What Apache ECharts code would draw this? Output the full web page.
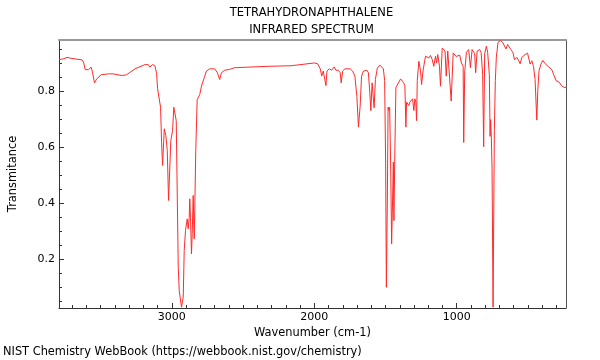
<!DOCTYPE html>
<html>
<head>
<meta charset="utf-8">
<script src="https://cdn.jsdelivr.net/npm/echarts@6/dist/echarts.min.js"></script>
<style>
html,body{margin:0;padding:0;background:#fff;}
#chart{width:600px;height:360px;}
</style>
</head>
<body>
<div id="chart"></div>
<script>
// Wavenumber (cm-1) and transmittance
var wavenumber = [
  3792,3757,3736,3701,3631,3620,3608,3585,3566,3557,
  3543,3527,3496,3445,3410,3352,3317,3259,3189,3165,
  3154,3137,3119,3107,3100,3088,3079,3072,3065,3053,
  3042,3032,3023,3007,2995,2986,2979,2969,2955,2948,
  2932,2920,2913,2904,2892,2885,2878,2874,2869,2862,
  2857,2850,2843,2839,2832,2822,2804,2792,2769,2757,
  2734,2699,2680,2664,2652,2629,2594,2559,2466,2326,
  2163,2000,1976,1958,1948,1937,1925,1918,1911,1895,
  1878,1860,1848,1832,1818,1811,1801,1785,1748,1731,
  1715,1701,1690,1678,1668,1655,1631,1620,1610,1603,
  1594,1590,1580,1571,1557,1538,1515,1506,1499,1494,
  1487,1482,1476,1471,1464,1457,1450,1445,1441,1434,
  1427,1413,1394,1375,1364,1357,1352,1343,1336,1329,
  1319,1310,1301,1294,1287,1282,1277,1266,1254,1247,
  1235,1219,1196,1184,1172,1161,1149,1142,1133,1121,
  1114,1102,1091,1082,1074,1063,1051,1039,1025,1014,
  1004,993,979,967,955,951,944,932,916,904,
  892,881,874,867,857,839,829,818,811,804,
  792,783,771,766,762,757,752,745,736,729,
  722,710,694,678,671,654,643,629,620,606,
  594,578,566,555,543,520,503,494,485,473,
  461,450,438,431,422,408,396,380,357,333,
  303,280,263,247,233
];
var transmittance = [
  0.914,0.917,0.922,0.918,0.913,0.905,0.878,0.878,0.887,0.869,
  0.831,0.845,0.860,0.863,0.863,0.857,0.860,0.881,0.896,0.896,
  0.887,0.896,0.893,0.865,0.810,0.806,0.744,0.619,0.536,0.667,
  0.643,0.589,0.411,0.625,0.660,0.744,0.746,0.696,0.173,0.089,
  0.030,0.065,0.232,0.304,0.345,0.310,0.351,0.417,0.350,0.220,
  0.290,0.429,0.274,0.375,0.589,0.771,0.789,0.819,0.855,0.873,
  0.881,0.881,0.867,0.843,0.867,0.876,0.879,0.885,0.887,0.890,
  0.892,0.902,0.899,0.881,0.855,0.873,0.867,0.821,0.873,0.881,
  0.876,0.888,0.876,0.876,0.867,0.831,0.873,0.881,0.881,0.873,
  0.855,0.783,0.673,0.748,0.855,0.873,0.876,0.867,0.795,0.732,
  0.831,0.835,0.742,0.843,0.885,0.894,0.881,0.839,0.542,0.101,
  0.423,0.744,0.732,0.744,0.542,0.256,0.423,0.548,0.339,0.601,
  0.815,0.827,0.845,0.833,0.821,0.673,0.762,0.765,0.750,0.762,
  0.756,0.774,0.732,0.774,0.762,0.696,0.839,0.908,0.875,0.825,
  0.880,0.926,0.920,0.929,0.914,0.890,0.926,0.902,0.932,0.890,
  0.819,0.955,0.958,0.945,0.855,0.945,0.950,0.766,0.938,0.935,
  0.925,0.932,0.930,0.902,0.890,0.618,0.870,0.940,0.950,0.885,
  0.950,0.950,0.935,0.867,0.944,0.950,0.940,0.861,0.603,0.935,
  0.962,0.940,0.860,0.640,0.700,0.635,0.520,0.030,0.660,0.839,
  0.923,0.976,0.982,0.976,0.980,0.952,0.968,0.970,0.950,0.940,
  0.913,0.922,0.912,0.899,0.922,0.932,0.937,0.932,0.898,0.910,
  0.890,0.843,0.698,0.804,0.875,0.899,0.911,0.900,0.889,0.878,
  0.839,0.833,0.820,0.815,0.815
];
var xMajorTicks = [1000, 2000, 3000];
var xMinorTicks = [300,400,500,600,700,800,900,1100,1200,1300,1400,1500,1600,1700,1800,1900,
                   2100,2200,2300,2400,2500,2600,2700,2800,2900,3100,3200,3300,3400,3500,3600,3700];
var yMajorTicks = [0.2, 0.4, 0.6, 0.8];
var yMinorTicks = [0.05,0.1,0.15,0.25,0.3,0.35,0.45,0.5,0.55,0.65,0.7,0.75,0.85,0.9,0.95];
var titleLines = ['TETRAHYDRONAPHTHALENE', 'INFRARED SPECTRUM'];
var xTitle = 'Wavenumber (cm-1)';
var yTitle = 'Transmitance';
var footer = 'NIST Chemistry WebBook (https://webbook.nist.gov/chemistry)';

var X_MIN = 233, X_MAX = 3792, Y_MIN = 0.027, Y_MAX = 0.984;
var FONT = "'DejaVu Sans', sans-serif";

var points = wavenumber.map(function (w, i) { return [w, transmittance[i]]; });

var chart = echarts.init(document.getElementById('chart'), null, {renderer: 'canvas'});

function baseX(extra) {
  return Object.assign({
    type: 'value', inverse: true, min: X_MIN, max: X_MAX, gridIndex: 0,
    splitLine: {show: false}, minorTick: {show: false}
  }, extra);
}
function baseY(extra) {
  return Object.assign({
    type: 'value', min: Y_MIN, max: Y_MAX, gridIndex: 0,
    splitLine: {show: false}, minorTick: {show: false}
  }, extra);
}

chart.setOption({
  animation: false,
  backgroundColor: '#ffffff',
  grid: {left: 57, right: 34, top: 40, bottom: 52, containLabel: false},
  graphic: [
    {type: 'text', x: 311.5, y: 13, style: {text: titleLines[0], font: '11.5px ' + FONT, fill: '#000', textAlign: 'center', textVerticalAlign: 'middle'}},
    {type: 'text', x: 311.5, y: 30, style: {text: titleLines[1], font: '11.5px ' + FONT, fill: '#000', textAlign: 'center', textVerticalAlign: 'middle'}},
    {type: 'text', x: 3, y: 352, style: {text: footer, font: '11.4px ' + FONT, fill: '#000', textAlign: 'left', textVerticalAlign: 'middle'}}
  ],
  xAxis: [
    baseX({
      position: 'bottom',
      name: xTitle, nameLocation: 'middle', nameGap: 17,
      nameTextStyle: {fontFamily: FONT, fontSize: 11.4, color: '#000'},
      axisLine: {show: true, lineStyle: {color: '#333', width: 1}},
      axisTick: {show: true, inside: true, length: 5, customValues: xMajorTicks, lineStyle: {color: '#333'}},
      axisLabel: {show: true, customValues: xMajorTicks, margin: 4, fontFamily: FONT, fontSize: 11, color: '#000',
                  formatter: function (v) { return String(v); }}
    }),
    baseX({
      position: 'bottom',
      axisLine: {show: false},
      axisTick: {show: true, inside: true, length: 3, customValues: xMinorTicks, lineStyle: {color: '#333'}},
      axisLabel: {show: false}
    }),
    baseX({
      position: 'top',
      axisLine: {show: true, lineStyle: {color: '#999', width: 2}},
      axisTick: {show: false},
      axisLabel: {show: false}
    })
  ],
  yAxis: [
    baseY({
      position: 'left',
      name: yTitle, nameLocation: 'middle', nameGap: 40, nameRotate: 90,
      nameTextStyle: {fontFamily: FONT, fontSize: 11.4, color: '#000'},
      axisLine: {show: true, lineStyle: {color: '#333', width: 1}},
      axisTick: {show: true, inside: true, length: 5, customValues: yMajorTicks, lineStyle: {color: '#333'}},
      axisLabel: {show: true, customValues: yMajorTicks, margin: 4, fontFamily: FONT, fontSize: 11, color: '#000',
                  formatter: function (v) { return v.toFixed(1); }}
    }),
    baseY({
      position: 'left',
      axisLine: {show: false},
      axisTick: {show: true, inside: true, length: 3, customValues: yMinorTicks, lineStyle: {color: '#333'}},
      axisLabel: {show: false}
    }),
    baseY({
      position: 'right',
      axisLine: {show: true, lineStyle: {color: '#555', width: 1}},
      axisTick: {show: false},
      axisLabel: {show: false}
    })
  ],
  series: [{
    type: 'line',
    xAxisIndex: 0, yAxisIndex: 0,
    data: points,
    showSymbol: false,
    symbol: 'none',
    clip: true,
    lineStyle: {color: '#ff2a2a', width: 1},
    emphasis: {disabled: true}
  }]
});
</script>
</body>
</html>
